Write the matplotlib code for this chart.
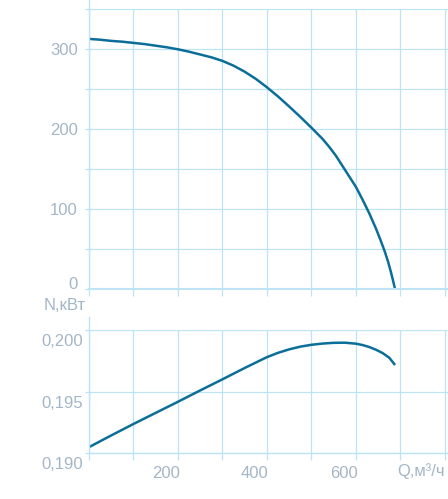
import numpy as np
import matplotlib
matplotlib.use("Agg")
import matplotlib.pyplot as plt
import matplotlib.transforms as mtransforms

plt.rcParams['font.family'] = ['Liberation Sans', 'DejaVu Sans']

# upper panel curve
q_top = [0, 25, 50, 75, 100, 125, 150, 175, 200, 225, 250, 275, 300, 325,
         350, 375, 400, 425, 450, 475, 500, 525, 540, 555, 570, 585, 600,
         615, 630, 645, 655, 665, 672, 678, 683, 688]
n_top = [313, 312, 310.5, 309.5, 308, 306.5, 304.5, 302.5, 300, 297, 293.5,
         290, 285.5, 279.5, 272, 263, 252.5, 241, 228.5, 215.5, 202, 188,
         178, 167, 154, 141, 128, 112, 95, 76, 62, 47, 35, 23, 12, 0]

# lower panel curve
q_bot = [0, 50, 100, 150, 200, 250, 300, 350, 400, 425, 450, 475, 500, 525,
         550, 575, 600, 615, 630, 645, 660, 675, 688]
n_bot = [0.1905, 0.19145, 0.19238, 0.19328, 0.19418, 0.19510, 0.19600,
         0.19692, 0.19780, 0.19815, 0.19843, 0.19865, 0.19880, 0.19890,
         0.19896, 0.19897, 0.19889, 0.19878, 0.19862, 0.19840, 0.19813,
         0.19775, 0.19716]

x_grid = [0, 100, 200, 300, 400, 500, 600, 700, 800]
x_labels = {200: '200', 400: '400', 600: '600'}
top_yticks = [0, 50, 100, 150, 200, 250, 300, 350]
bot_yticks = [0.190, 0.195, 0.200]

LINE = '#0b6e99'
GRID = '#bde3f5'
TXT = '#a3b6c6'

W, H = 448, 499
fig = plt.figure(figsize=(W / 100, H / 100), dpi=100)


def px_axes(left, top, right, bottom):
    return fig.add_axes([left / W, 1 - bottom / H, (right - left) / W, (bottom - top) / H])


def style(ax):
    for s in ['top', 'right']:
        ax.spines[s].set_visible(False)
    ax.spines['left'].set_color(GRID)
    ax.spines['bottom'].set_color(GRID)
    ax.spines['bottom'].set_linewidth(1.5)
    ax.spines['left'].set_linewidth(1.0)
    ax.set_xlim(0, 807)
    ax.set_xticks(x_grid)
    ax.grid(True, color=GRID, lw=0.9)
    ax.set_axisbelow(True)
    ax.tick_params(axis='x', length=5, width=0.9, color=GRID, labelcolor=TXT,
                   labelsize=12, pad=4)
    ax.tick_params(axis='y', length=3, width=0.9, color=GRID, labelcolor=TXT,
                   labelsize=12)


# upper panel
ax1 = px_axes(89, 9.3, 448, 289.3)
style(ax1)
ax1.set_ylim(0, 350)
ax1.set_yticks(top_yticks)
ax1.set_yticklabels([str(v) if v % 100 == 0 else '' for v in top_yticks])
ax1.tick_params(axis='y', pad=5)
ax1.set_xticklabels([])
ax1.plot([0, 0], [1, 1 + 9.3 / 280], transform=ax1.transAxes, color=GRID,
         lw=1.0, clip_on=False)
ax1.plot(q_top, n_top, color=LINE, lw=1.8, solid_capstyle='butt')
lab0 = ax1.get_yticklabels()[0]
lab0.set_transform(lab0.get_transform() +
                   mtransforms.ScaledTranslation(0, 6 / 100, fig.dpi_scale_trans))

# lower panel
ax2 = px_axes(89, 330, 448, 453.3)
style(ax2)
ax2.set_ylim(0.190, 0.200)
ax2.set_yticks(bot_yticks)
ax2.set_yticklabels([f'{v:.3f}'.replace('.', ',') for v in bot_yticks])
ax2.tick_params(axis='y', pad=1)
ax2.set_xticklabels([x_labels.get(v, '') for v in x_grid])
ax2.spines['bottom'].set_linewidth(1.0)
ax2.plot([0, 0], [1, 1 + 13 / 123.3], transform=ax2.transAxes, color=GRID,
         lw=1.0, clip_on=False)
ax2.plot(q_bot, n_bot, color=LINE, lw=1.8, solid_capstyle='butt')

shift_x = mtransforms.ScaledTranslation(-12 / 100, 0, fig.dpi_scale_trans)
for lab in ax2.get_xticklabels():
    lab.set_transform(lab.get_transform() + shift_x)
shift_y = mtransforms.ScaledTranslation(0, -10 / 100, fig.dpi_scale_trans)
for lab in ax2.get_yticklabels():
    lab.set_transform(lab.get_transform() + shift_y)

fig.text(86 / W, 1 - 305 / H, 'N,кВт', ha='right', va='center', color=TXT, fontsize=12)
fig.text(397 / W, 1 - 471 / H, 'Q,м³/ч', ha='left', va='center', color=TXT, fontsize=12)

fig.savefig('out.png', dpi=100)
